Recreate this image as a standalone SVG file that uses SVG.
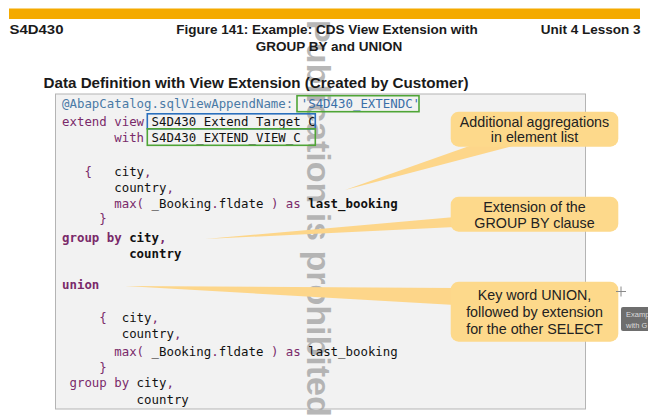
<svg xmlns="http://www.w3.org/2000/svg" width="648" height="417" viewBox="0 0 648 417">
<style>
  .hdr { font-family: "Liberation Sans", Arial, sans-serif; font-weight: bold; font-size: 13.5px; fill: #1a1a1a; }
  .sub { font-family: "Liberation Sans", Arial, sans-serif; font-weight: bold; font-size: 15.2px; fill: #1a1a1a; }
  .code { font-family: "DejaVu Sans Mono", "Liberation Mono", monospace; font-size: 12.4px; fill: #111; }
  .kw { fill: #7a2a6a; }
  .ann { fill: #4a7aa6; }
  .str { fill: #3a6fa8; }
  .b { font-weight: bold; }
  .callout { fill: #fdd98b; }
  .ctext { font-family: "Liberation Sans", Arial, sans-serif; font-size: 14.3px; fill: #222; text-anchor: middle; }
  .wedge { fill: #fdd68a; }
  .hl-green { fill: none; stroke: #4fa537; stroke-width: 1.6; }
  .hl-blue { fill: none; stroke: #2a6fbd; stroke-width: 1.6; }
</style>
<rect x="0" y="0" width="648" height="417" fill="#ffffff"/>

<g id="code-box">
  <rect x="55.5" y="94" width="530" height="315" fill="#f2f2f2" stroke="#b4b4b4" stroke-width="1"/>
</g>

<g id="watermark">
  <text x="307" y="20" transform="rotate(90 307 20)" font-family="Liberation Sans, Arial, sans-serif" font-weight="bold" font-size="34" fill="#a0a0a0" fill-opacity="0.75">Publication is prohibited</text>
</g>

<g id="connectors">
  <polygon class="wedge" points="475,144 520,144 345,190"/>
  <polygon class="wedge" points="455,217 455,227 205,239"/>
  <polygon class="wedge" points="455,288 455,305 125,286"/>
</g>

<g id="header">
  <rect x="9" y="8.5" width="631" height="10.5" fill="#f4aa00"/>
  <text class="hdr" x="9.5" y="33.5" textLength="54" lengthAdjust="spacingAndGlyphs">S4D430</text>
  <text class="hdr" x="327" y="33.5" text-anchor="middle">Figure 141: Example: CDS View Extension with</text>
  <text class="hdr" x="329" y="50.5" text-anchor="middle">GROUP BY and UNION</text>
  <text class="hdr" x="640.5" y="33.5" text-anchor="end">Unit 4 Lesson 3</text>
</g>

<g id="section-title">
  <text class="sub" x="43.5" y="88.3">Data Definition with View Extension (Created by Customer)</text>
</g>

<g id="code">
  <g class="code">
    <text x="62" y="108" xml:space="preserve"><tspan class="ann">@AbapCatalog.sqlViewAppendName: </tspan><tspan class="str">'S4D430_EXTENDC'</tspan></text>
    <text x="62" y="125.5" xml:space="preserve"><tspan class="kw">extend view </tspan>S4D430_Extend_Target_C</text>
    <text x="62" y="141.5" xml:space="preserve"><tspan class="kw">       with </tspan>S4D430_EXTEND_VIEW_C</text>
    <text x="62" y="176" xml:space="preserve"><tspan class="kw">   {   </tspan>city<tspan class="kw">,</tspan></text>
    <text x="62" y="192" xml:space="preserve">       country<tspan class="kw">,</tspan></text>
    <text x="62" y="208.3" xml:space="preserve"><tspan class="kw">       max( </tspan>_Booking<tspan class="kw">.</tspan>fldate<tspan class="kw"> ) as </tspan><tspan class="b">last_booking</tspan></text>
    <text x="62" y="223.3" xml:space="preserve"><tspan class="kw">     }</tspan></text>
    <text x="62" y="241.5" xml:space="preserve" class="b"><tspan class="kw">group by </tspan>city<tspan class="kw">,</tspan></text>
    <text x="62" y="257.5" xml:space="preserve" class="b">         country</text>
    <text x="62" y="289" xml:space="preserve" class="b"><tspan class="kw">union</tspan></text>
    <text x="62" y="322.3" xml:space="preserve"><tspan class="kw">     {  </tspan>city<tspan class="kw">,</tspan></text>
    <text x="62" y="338.3" xml:space="preserve">        country<tspan class="kw">,</tspan></text>
    <text x="62" y="355.5" xml:space="preserve"><tspan class="kw">       max( </tspan>_Booking<tspan class="kw">.</tspan>fldate<tspan class="kw"> ) as </tspan>last_booking</text>
    <text x="62" y="371.5" xml:space="preserve"><tspan class="kw">     }</tspan></text>
    <text x="62" y="387.3" xml:space="preserve"><tspan class="kw"> group by </tspan>city<tspan class="kw">,</tspan></text>
    <text x="62" y="404" xml:space="preserve">          country</text>
  </g>
  <rect class="hl-green" x="297" y="95.7" width="122" height="16"/>
  <rect class="hl-blue" x="147.3" y="113.8" width="168" height="15"/>
  <rect class="hl-green" x="147.3" y="128.8" width="168" height="16.5"/>
</g>

<g id="callout-aggregations">
  <rect class="callout" x="450.7" y="111.7" width="167.6" height="35" rx="8"/>
  <text class="ctext" x="534.5" y="126.8">Additional aggregations</text>
  <text class="ctext" x="534.5" y="142.3">in element list</text>
</g>

<g id="callout-groupby">
  <rect class="callout" x="450.7" y="196.7" width="167.6" height="35" rx="8"/>
  <text class="ctext" x="534.5" y="211.8">Extension of the</text>
  <text class="ctext" x="534.5" y="228.3">GROUP BY clause</text>
</g>

<g id="callout-union">
  <rect class="callout" x="450.7" y="281.7" width="167.6" height="60" rx="8"/>
  <text class="ctext" x="534.5" y="300">Key word UNION,</text>
  <text class="ctext" x="534.5" y="317.3">followed by extension</text>
  <text class="ctext" x="534.5" y="334.3">for the other SELECT</text>
</g>

<g id="cursor" stroke="#8a8a8a" stroke-width="1">
  <line x1="616" y1="291.5" x2="626" y2="291.5"/>
  <line x1="621" y1="286.5" x2="621" y2="296.5"/>
</g>

<g id="tooltip">
  <rect x="621" y="307" width="40" height="24" rx="2" fill="#6e6e6e"/>
  <text x="626" y="317" font-family="Liberation Sans, Arial, sans-serif" font-size="7.5" fill="#dcdcdc">Examp</text>
  <text x="626" y="327.5" font-family="Liberation Sans, Arial, sans-serif" font-size="7.5" fill="#dcdcdc">with G</text>
</g>
</svg>
